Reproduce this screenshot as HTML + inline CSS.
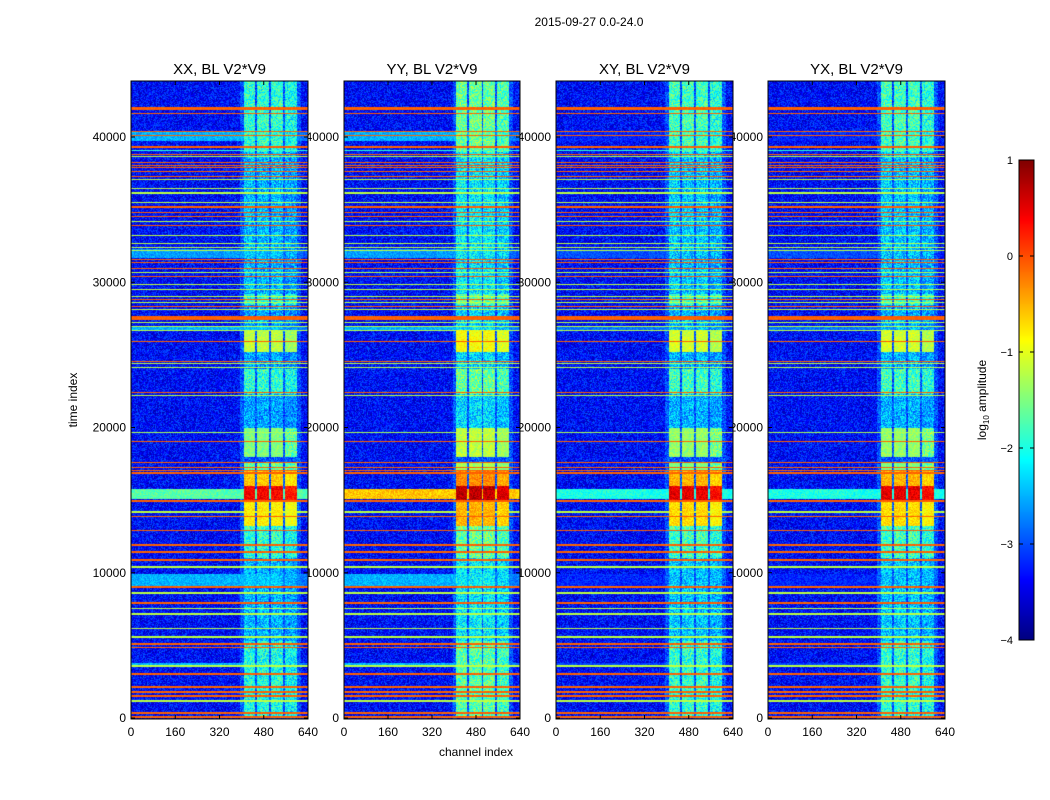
<!DOCTYPE html>
<html><head><meta charset="utf-8"><style>
body{margin:0;background:#fff;width:1050px;height:800px;overflow:hidden;position:relative;font-family:"Liberation Sans",sans-serif}
svg{position:absolute;left:0;top:0}
canvas{position:absolute}
</style></head><body>
<svg id="under" width="1050" height="800"></svg>
<canvas id="c0" width="177" height="638" style="left:131px;top:81px"></canvas>
<canvas id="c1" width="176" height="638" style="left:344px;top:81px"></canvas>
<canvas id="c2" width="177" height="638" style="left:556px;top:81px"></canvas>
<canvas id="c3" width="177" height="638" style="left:768px;top:81px"></canvas>
<canvas id="cb" width="15" height="480" style="left:1019px;top:160px"></canvas>
<svg id="over" width="1050" height="800"></svg>
<script>
// ---- data ----
const panelTitles=["XX, BL V2*V9","YY, BL V2*V9","XY, BL V2*V9","YX, BL V2*V9"];
const xTicks=[0,160,320,480,640];
const yTicks=[0,10000,20000,30000,40000];
const cbTicks=[1,0,-1,-2,-3,-4];
const tMax=43860, nChan=640, vMin=-4, vMax=1;
// flagged time rows: time, log amplitude, duration
const lineTimes=[41930,41585,40346,40070,39313,39038,38762,38625,38212,38005,37868,37592,37248,37041,36422,36146,35458,35182,34769,34494,34150,33874,33185,32635,32360,32153,31533,31327,30914,30638,30363,29812,29468,28986,28779,28573,28297,28091,27540,27196,26920,26645,25888,24511,24373,24098,22376,22170,19622,19003,17557,17213,17006,16868,14940,14183,13839,12875,11911,11429,10878,10396,9019,8606,7918,7505,7160,6128,5577,5095,4820,3580,3029,2134,1790,1515,1170,344,60];
const lineVals=[-0.1,-0.1,-0.1,-0.1,-0.1,-1.9,-0.1,-1.2,-0.1,-0.1,-0.1,-0.1,-0.1,-1.2,-1.2,-1.2,-1.2,-0.1,-0.1,-0.1,-1.2,-0.1,-1.2,-1.2,-1.2,-1.2,-0.1,-0.1,-0.1,-1.2,-0.1,-1.2,-1.2,-1.2,-0.1,-1.2,-0.1,-1.2,-0.1,-1.2,-1.2,-1.2,-0.1,-0.1,-1.2,-1.2,-0.1,-1.2,-1.3,-0.1,-0.1,-0.1,-0.1,-0.1,-0.1,-1.2,-0.1,-0.1,-0.1,-0.1,-0.1,-1.2,-0.1,-1.2,-0.1,-1.2,-1.2,-1.2,-1.2,-0.1,-0.1,-1.2,-0.1,-0.1,-0.1,-0.1,-1.2,-0.1,-0.1];
const lineDurs=[210,70,70,70,200,70,70,70,70,70,70,70,70,70,70,150,70,200,70,70,70,70,70,70,70,70,70,70,70,70,70,70,70,70,70,70,70,70,220,70,70,70,70,70,70,70,70,70,70,70,70,70,70,70,200,70,70,70,70,180,70,70,70,70,200,70,70,70,70,70,70,70,70,70,70,70,70,200,120];
// broad (all-channel) bands: start, end, level per panel
const broadStart=[39700,31650,26650,15100,8950,3550];
const broadEnd=[40350,32300,27000,15800,9900,3800];
const broadXX=[-2.5,-2.6,-2.5,-1.7,-2.5,-2.5];
const broadYY=[-2.5,-2.6,-2.5,-0.6,-2.5,-2.5];
const broadXY=[-3.3,-3.0,-2.8,-2.0,-3.3,-3.1];
const broadYX=[-3.3,-3.0,-2.8,-2.0,-3.3,-3.1];
// RFI channel columns
const bandLo=[408,455,506,556];
const bandHi=[448,500,549,600];
// activity of RFI columns over time
const segStart=[39000,29000,28400,18000,25200,22300,18000,17000,16000,15000,13200,11000,5300,0];
const segEnd=[43860,39000,29200,28400,26700,24000,20000,17600,17000,16000,15000,13200,11000,5300];
const segLevel=[-1.9,-2.5,-1.9,-2.6,-1.2,-1.9,-1.5,-1.6,-0.6,0.4,-0.8,-1.9,-2.5,-2.0];
const panelBoost=[0,0.3,0.1,0.1];
// ---- helpers ----
function jet(v){let x=(v-vMin)/(vMax-vMin);x=Math.max(0,Math.min(1,x));
 const f=(a)=>Math.max(0,Math.min(1,1.5-Math.abs(4*x-a)));
 return [f(3)*255,f(2)*255,f(1)*255];}
function hash(a,b){let h=(a*374761393+b*668265263)|0;h=(h^(h>>>13))*1274126177|0;h=h^(h>>>16);return ((h>>>0)%10000)/5000-1;}
const yS=t=>718-t*0.014525;
const panelsX=[131,344,556,768], panelsW=[177,176,177,177];
const broadByPanel=[broadXX,broadYY,broadXY,broadYX];
function value(t,ch,p,i,j){
 let v=-3.35+hash(i+p*1000,j)*0.45;
 const inRfi=ch>=395&&ch<=615;
 if(inRfi) v=Math.max(v,-3.0+hash(j,i+7)*0.45);
 for(let k=0;k<broadStart.length;k++) if(t>=broadStart[k]&&t<broadEnd[k]){
   let L=broadByPanel[p][k]; if(ch>540&&k!==3) L-=0.3;
   v=Math.max(v,L+hash(i,j+3)*0.25);}
 let col=-1;for(let b=0;b<4;b++) if(ch>=bandLo[b]&&ch<=bandHi[b]) col=b;
 if(col>=0){let lv=-99;for(let s=0;s<segStart.length;s++) if(t>=segStart[s]&&t<segEnd[s]) lv=Math.max(lv,segLevel[s]);
   if(lv>-99){lv+=panelBoost[p];if(col===3)lv-=0.15;const nz=lv<-1.5?0.55:0.25;v=Math.max(v,lv+hash(i+5,j)*nz);}}
 for(let k=0;k<lineTimes.length;k++) if(Math.abs(t-lineTimes[k])<Math.max(lineDurs[k],70)/2) v=Math.max(v,lineVals[k]+hash(i,j)*0.08);
 return v;}
for(let p=0;p<4;p++){
 const c=document.getElementById('c'+p),ctx=c.getContext('2d'),W=c.width,H=c.height;
 const img=ctx.createImageData(W,H);
 for(let j=0;j<H;j++){const t=(718-(81+j+0.5))/0.014525;
  for(let i=0;i<W;i++){const ch=(i+0.5)/W*nChan;const rgb=jet(value(t,ch,p,i,j));const o=(j*W+i)*4;
   img.data[o]=rgb[0];img.data[o+1]=rgb[1];img.data[o+2]=rgb[2];img.data[o+3]=255;}}
 ctx.putImageData(img,0,0);}
{const c=document.getElementById('cb'),ctx=c.getContext('2d');
 for(let j=0;j<480;j++){const rgb=jet(vMax-(j+0.5)/480*(vMax-vMin));ctx.fillStyle=`rgb(${rgb.map(Math.round)})`;ctx.fillRect(0,j,15,1);}}
// ---- svg ----
const NS="http://www.w3.org/2000/svg";
function mk(par,tag,attrs,txt){const e=document.createElementNS(NS,tag);for(const k in attrs)e.setAttribute(k,attrs[k]);if(txt!==undefined)e.textContent=txt;par.appendChild(e);return e;}
const under=document.getElementById('under'),over=document.getElementById('over');
for(let p=0;p<4;p++){
 const x0=panelsX[p],w=panelsW[p];
 yTicks.forEach(v=>{const e=mk(under,'text',{x:x0-5,y:yS(v)+4,'text-anchor':'end','font-size':12,fill:'#000'},String(v));
  
  });
 xTicks.forEach(v=>{const x=x0+v/nChan*w;const e=mk(over,'text',{x:x,y:736,'text-anchor':'middle','font-size':12,fill:'#000'},String(v));
  
  
  mk(over,'line',{x1:x,x2:x,y1:719,y2:715,stroke:'#000'});mk(over,'line',{x1:x,x2:x,y1:81,y2:85,stroke:'#000'});});
 yTicks.forEach(v=>{const y=yS(v);mk(over,'line',{x1:x0,x2:x0+4,y1:y,y2:y,stroke:'#000'});mk(over,'line',{x1:x0+w-4,x2:x0+w,y1:y,y2:y,stroke:'#000'});});
 const fr=mk(over,'rect',{x:x0,y:81,width:w,height:638,fill:'none',stroke:'#000','stroke-width':1});
 
 
 const tt=mk(over,'text',{x:x0+w/2,y:74,'text-anchor':'middle','font-size':15,fill:'#000'},panelTitles[p]);
 
 }
cbTicks.forEach((v,k)=>{const y=160+k*96;const e=mk(over,'text',{x:1013,y:y+4,'text-anchor':'end','font-size':11,fill:'#000'},v<0?'\u2212'+(-v):String(v));
 
 
 mk(over,'line',{x1:1019,x2:1023,y1:y,y2:y,stroke:'#000'});mk(over,'line',{x1:1030,x2:1034,y1:y,y2:y,stroke:'#000'});});
mk(over,'rect',{x:1019,y:160,width:15,height:480,fill:'none',stroke:'#000'});
let e;
e=mk(over,'text',{x:589,y:26,'text-anchor':'middle','font-size':12,fill:'#000'},'2015-09-27 0.0-24.0');


e=mk(over,'text',{x:476,y:756,'text-anchor':'middle','font-size':12,fill:'#000'},'channel index');


e=mk(over,'text',{x:0,y:0,'text-anchor':'middle','font-size':12,fill:'#000',transform:'translate(77,400) rotate(-90)'},'time index');


e=mk(over,'text',{x:0,y:0,'text-anchor':'middle','font-size':12,fill:'#000',transform:'translate(986,400) rotate(-90)'});


mk(e,'tspan',{},'log');mk(e,'tspan',{'font-size':8,dy:3},'10');mk(e,'tspan',{dy:-3},' amplitude');
</script>
</body></html>
